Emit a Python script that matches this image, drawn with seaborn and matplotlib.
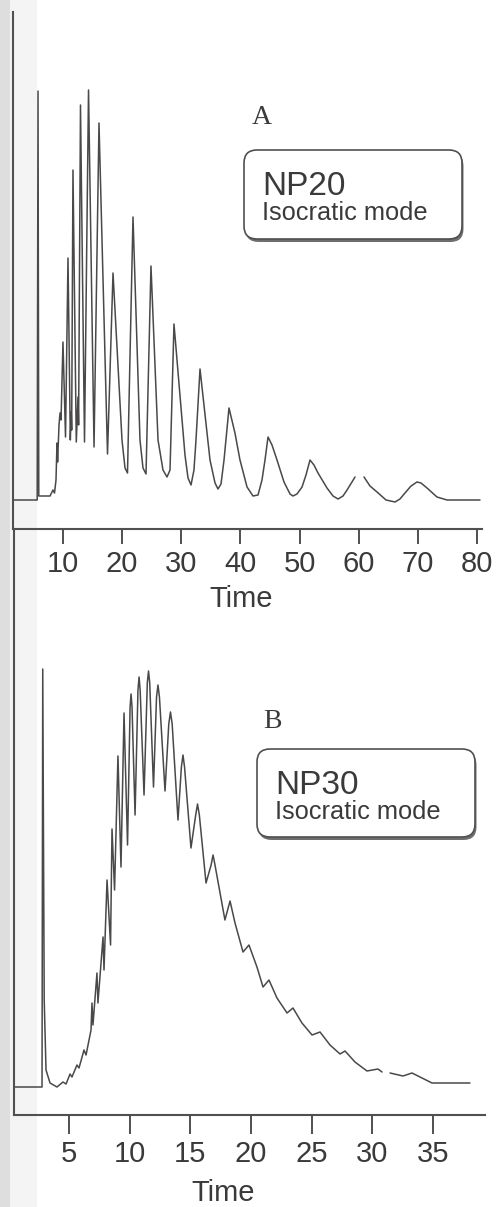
import numpy as np
import pandas as pd
import matplotlib
matplotlib.use("Agg")
import matplotlib.pyplot as plt
from matplotlib.patches import FancyBboxPatch, Rectangle
import seaborn as sns

# trace A (NP20): time, detector signal (baseline = 0)
a_time = [1.54, 5.63, 5.77, 5.90, 7.80, 8.30, 8.56, 8.81, 8.98, 9.08, 9.32, 9.49, 9.66, 9.99,
          10.42, 10.84, 11.23, 11.38, 11.46, 11.68, 12.24, 12.53, 12.63, 12.95, 13.63, 14.31,
          15.24, 16.08, 17.52, 18.45, 19.97, 20.48, 20.90, 21.83, 23.01, 23.52, 24.03, 24.87,
          26.06, 26.90, 27.58, 28.09, 28.76,
          30.62, 31.13, 31.64, 32.14, 32.48, 33.16,
          34.85, 35.70, 36.20, 36.71, 37.22, 38.06,
          39.07, 39.92, 41.11, 42.12, 42.97, 43.64, 44.15, 44.66,
          45.33, 46.18, 47.36, 48.38, 48.88, 49.56, 50.41, 51.08, 51.76,
          52.43, 53.11, 54.63, 55.65, 56.49, 57.34, 58.02, 59.37,
          60.89, 61.90, 63.09, 64.61, 66.13, 66.97, 67.82, 68.84, 69.85, 70.53, 71.54,
          73.23, 74.92, 80.50]
a_signal = [0, 0, 409, 4, 4, 10, 7, 20, 57, 38, 75, 87, 80, 158,
            63, 242, 60, 88, 70, 330, 58, 103, 75, 395, 58, 410,
            53, 377, 46, 227, 60, 32, 27, 283, 60, 32, 26, 234,
            60, 30, 23, 30, 176,
            45, 22, 15, 30, 60, 131,
            40, 17, 11, 16, 40, 92,
            67, 40, 13, 4, 5, 20, 40, 63,
            55, 40, 18, 6, 4, 6, 13, 25, 40,
            35, 27, 12, 4, 1, 4, 10, 23,
            23, 14, 8, 0, -2, 1, 7, 14, 18, 17, 12,
            3, 0, 0]
a_gap = 60.0   # the printed trace is broken here
a_ticks = [10, 20, 30, 40, 50, 60, 70, 80]

# trace B (NP30)
b_time = [0.47, 2.78, 2.84, 2.96, 3.11, 3.44, 4.01, 4.51, 4.76, 5.09, 5.25, 5.66, 5.83, 6.24,
          6.41, 6.82, 6.90, 6.98, 7.31, 7.39, 7.81, 7.89, 8.14, 8.43, 8.55, 8.76, 9.04, 9.29,
          9.54, 9.83, 10.04, 10.12, 10.20, 10.45, 10.69, 10.78, 10.87, 11.19,
          11.46, 11.56, 11.66, 11.97, 12.22, 12.34, 12.46, 12.92, 13.23, 13.37, 13.51, 13.99,
          14.27, 14.40, 14.53, 15.06, 15.45, 15.60, 15.75, 16.30, 16.72, 16.88, 17.04, 17.86,
          18.28, 18.69, 19.35, 19.84, 20.50, 21.00,
          21.49, 22.15, 22.98, 23.47, 24.21, 25.04, 25.70, 26.52, 27.35, 27.76, 28.58, 29.57,
          30.48, 30.81, 31.47, 32.54, 33.28, 34.11, 34.93, 38.06]
b_signal = [0, 0, 418, 87, 17, 4, 0, 5, 3, 13, 10, 22, 19, 37,
            32, 57, 84, 62, 114, 84, 150, 117, 207, 142, 258, 197, 331, 220,
            374, 242, 380, 393, 380, 272, 397, 410, 397, 292,
            404, 416, 404, 300, 390, 402, 390, 296, 363, 375, 363, 267,
            320, 332, 320, 239, 272, 283, 272, 204, 222, 232, 222, 167,
            186, 164, 135, 142, 120, 100,
            107, 89, 74, 79, 64, 52, 55, 42, 33, 36, 25, 16,
            18, 15, 14, 11, 14, 9, 4, 4]
b_gap = 31.1
b_ticks = [5, 10, 15, 20, 25, 30, 35]

labels = ["A", "B"]
columns = ["NP20", "NP30"]
mode = "Isocratic mode"

sns.set_style("ticks")
plt.rcParams["font.family"] = ["Liberation Sans", "DejaVu Sans"]

W, H = 503, 1207
line_col = "#4a4848"
axis_col = "#505050"
text_col = "#3a3a3a"

fig = plt.figure(figsize=(W / 100, H / 100), dpi=100)

# soft grey scan shading at the left edge
fig.add_artist(Rectangle((0, 0), 10 / W, 1, transform=fig.transFigure,
                         fc="#dedede", ec="none", zorder=-2))
fig.add_artist(Rectangle((10 / W, 0), 27 / W, 1, transform=fig.transFigure,
                         fc="#f4f4f4", ec="none", zorder=-2))

# axes rectangles in pixels (left, top, right, bottom)
axA = fig.add_axes([13 / W, 1 - 529 / H, (482 - 13) / W, (529 - 12) / H])
axB = fig.add_axes([14 / W, 1 - 1115 / H, (485 - 14) / W, (1115 - 529) / H])


def draw(ax, t, s, gap, ticks, xlim, ylim, tick_len, label_xy):
    df = pd.DataFrame({"time": t, "signal": s})
    df["seg"] = (df["time"] > gap).astype(int)
    sns.lineplot(data=df, x="time", y="signal", units="seg", estimator=None,
                 sort=False, color=line_col, lw=1.1, legend=False, ax=ax)
    ax.set_xlim(*xlim)
    ax.set_ylim(*ylim)
    ax.set_yticks([])
    ax.set_xticks(ticks)
    ax.set_xticklabels([str(v) for v in ticks])
    ax.tick_params(axis="x", direction="out", length=tick_len, width=1.4, pad=4,
                   labelsize=21, color=axis_col, labelcolor=text_col)
    for side in ["top", "right"]:
        ax.spines[side].set_visible(False)
    for side in ["left", "bottom"]:
        ax.spines[side].set_color(axis_col)
        ax.spines[side].set_linewidth(1.5)
    ax.set_ylabel("")
    ax.set_xlabel("Time", fontsize=21, color=text_col)
    ax.xaxis.label.set_va("center")
    ax.xaxis.set_label_coords(*label_xy)
    ax.patch.set_visible(False)


draw(axA, a_time, a_signal, a_gap, a_ticks, (1.54, 80.84), (-29, 488), 11, (0.486, -0.135))
draw(axB, b_time, b_signal, b_gap, b_ticks, (0.47, 39.3), (-28, 558), 14, (0.443, -0.133))


def label_box(letter, name, letter_xy, box):
    x0, y0, x1, y1 = box
    r = 13 / W
    shadow = FancyBboxPatch((x0 / W + 1.5 / W, 1 - y1 / H - 3 / H), (x1 - x0) / W, (y1 - y0) / H,
                            boxstyle=f"round,pad=0,rounding_size={r}", mutation_aspect=W / H,
                            transform=fig.transFigure, fc="#6e6e6e", ec="none", zorder=4)
    main = FancyBboxPatch((x0 / W, 1 - y1 / H), (x1 - x0) / W, (y1 - y0) / H,
                          boxstyle=f"round,pad=0,rounding_size={r}", mutation_aspect=W / H,
                          transform=fig.transFigure, fc="white", ec=axis_col, lw=1.2, zorder=5)
    fig.add_artist(shadow)
    fig.add_artist(main)
    fig.text(letter_xy[0] / W, 1 - letter_xy[1] / H, letter, family=["Liberation Serif", "DejaVu Serif"],
             fontsize=20, ha="center", va="center", color=text_col, zorder=6)
    fig.text((x0 + 18) / W, 1 - (y0 + 45) / H, name, fontsize=24, ha="left", va="baseline",
             color=text_col, zorder=6)
    fig.text((x0 + 18) / W, 1 - (y0 + 70) / H, mode, fontsize=18.3, ha="left", va="baseline",
             color=text_col, zorder=6)


label_box(labels[0], columns[0], (262, 117), (244, 150, 462, 239))
label_box(labels[1], columns[1], (272, 722), (257, 749, 475, 837))

fig.savefig("out.png", dpi=100)
